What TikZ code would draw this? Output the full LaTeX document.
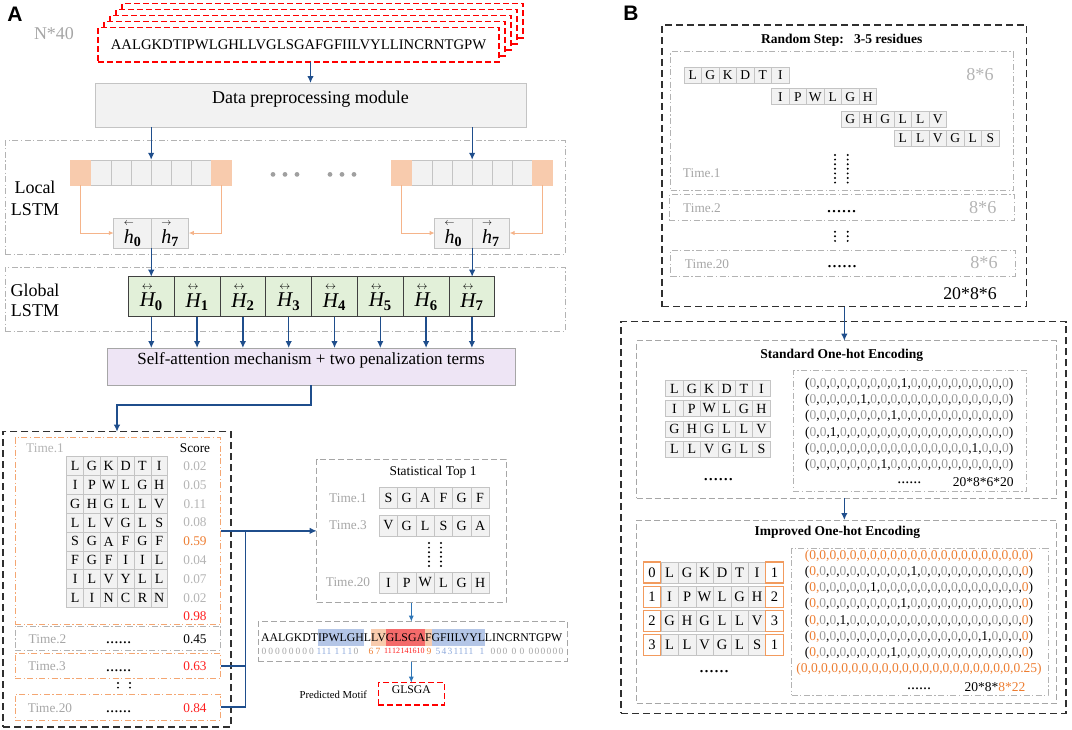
\documentclass[tikz,border=0pt]{standalone}
\usepackage{amsmath}
\usepackage{fontspec}
\setmainfont{Liberation Serif}
\newfontfamily\labelfont{Liberation Sans}
\usetikzlibrary{arrows.meta,fit}
\definecolor{dblue}{HTML}{1F4E8C}
\definecolor{lblue}{HTML}{2E75B6}
\definecolor{tgray}{HTML}{A6A6A6}
\definecolor{sgray}{HTML}{B4B4B4}
\definecolor{cfill}{HTML}{F2F2F2}
\definecolor{cborder}{HTML}{C4C4C4}
\definecolor{ocell}{HTML}{F8CBAD}
\definecolor{oline}{HTML}{F5B48A}
\definecolor{gfill}{HTML}{E2F0D9}
\definecolor{pfill}{HTML}{EEE5F5}
\definecolor{otext}{HTML}{ED7D31}
\definecolor{rtext}{HTML}{FF1F1F}
\definecolor{odashc}{HTML}{F4A672}
\definecolor{obord}{HTML}{F29B5E}
\definecolor{hblue}{HTML}{B4C6E7}
\definecolor{hred}{HTML}{F46A6A}
\definecolor{nblue}{HTML}{8FAADC}
\definecolor{zgray}{HTML}{9A9A9A}
\definecolor{dotgray}{HTML}{A0A0A0}
\definecolor{bdcol}{HTML}{303030}
\newcommand\fsz[1]{\fontsize{#1}{#1}\selectfont}
\newcommand\arrowover[2]{\overset{\scriptscriptstyle #1}{\textit{#2}}}
\newcommand\zz{\textcolor{zgray}{0}}
\newcount\ohc
\newcommand\ohlist[2]{\ohc=0 \loop\advance\ohc by 1 \ifnum\ohc=#1 1\else\zz\fi\ifnum\ohc<#2,\repeat}
\newcommand\cellrow[7]{\foreach \ch [count=\k from 0] in {#7} {\node[cellA, minimum width=#4pt, minimum height=#5pt, font=\fsz{#6}] (#1-\k) at (#2+#4*\k, #3) {\ch};}}
\newcommand\vdcol[3]{\draw[line width=2.2pt, line cap=round, dash pattern=on 0pt off 4.6pt] (#1,#2) -- (#1,#3);}
\tikzset{
 ddgray/.style={draw=tgray!85, line width=0.8pt, dash pattern=on 6pt off 2.5pt on 1.2pt off 2.5pt},
 bdash/.style={draw=bdcol, line width=1.3pt, dash pattern=on 7pt off 4pt},
 gdash/.style={draw=tgray, line width=1pt, dash pattern=on 6pt off 3pt},
 odashb/.style={draw=odashc, line width=1pt, dash pattern=on 6pt off 2.5pt on 1.2pt off 2.5pt},
 rdash/.style={draw=red, line width=1.1pt, dash pattern=on 6pt off 3pt},
 graybox/.style={draw=cborder, fill=cfill, line width=0.8pt},
 pbox/.style={draw=tgray, fill=pfill, line width=0.8pt},
 cellA/.style={draw=cborder, fill=cfill, line width=0.6pt},
 ocellst/.style={draw=ocell, fill=ocell, line width=0.6pt},
 obox/.style={draw=obord, fill=white, line width=1.2pt},
 gcell/.style={draw=black!75, fill=gfill, line width=0.8pt},
 darr/.style={draw=dblue, line width=1.3pt, -{Latex[length=7pt,width=6.5pt]}},
 dline/.style={draw=dblue, line width=1.3pt},
 larr/.style={draw=lblue, line width=1pt, -{Latex[length=6pt,width=5pt]}},
 oarr/.style={draw=oline, line width=1pt, -{Latex[length=5pt,width=4.5pt]}},
 tlab/.style={font=\fsz{13.3}, text=tgray},
 sq/.style={font=\fsz{11.8}, anchor=base west, inner xsep=0pt, inner ysep=1.85pt, text height=10pt, text depth=3pt},
 nrow/.style={font=\fsz{9.5}},
 vec/.style={font=\fsz{13.5}},
}
\begin{document}
\begin{tikzpicture}[x=1pt,y=-1pt, every node/.style={inner sep=0pt, outer sep=0pt}]
\useasboundingbox (0,0) rectangle (1072,729);
% ================= PANEL A =================
\node[font=\labelfont\bfseries\fsz{21}] (labA) at (15,14) {A};
\node[font=\fsz{18}, text=tgray] (n40) at (54,34) {N*40};
\foreach \k in {4,3,2,1}{\node[rdash, fill=white, fit={(98+6*\k,27.5-6*\k)(499+6*\k,62-6*\k)}] (stk\k) {};}
\node[rdash, fill=white, fit={(98,27.5)(499,62)}] (seq) {};
\node[font=\fsz{14.7}] (seqtxt) at (seq.center) {AALGKDTIPWLGHLLVGLSGAFGFIILVYLLINCRNTGPW};
\node[graybox, fit={(95,83)(526,127)}, font=\fsz{18}] (dp) {Data preprocessing module};
\draw[darr] (dp.north |- seq.south) -- (dp.north);
% local / global boxes
\node[ddgray, fit={(5,140.7)(565,254)}] (loc) {};
\node[font=\fontsize{18}{22}\selectfont, align=center] (loct) at (35,198.5) {Local\\LSTM};
\node[ddgray, fit={(5,267)(565,331)}] (glo) {};
\node[font=\fontsize{18}{20}\selectfont, align=center] (glot) at (35,300) {Global\\LSTM};
% cell rows
\foreach \i in {1,...,6}{\node[cellA, minimum width=20.14pt, minimum height=25pt] (ra\i) at (80.67+20.14*\i,172.3) {};}
\node[ocellst, minimum width=20.14pt, minimum height=25pt] (ra0) at (80.67,172.3) {};
\node[ocellst, minimum width=20.14pt, minimum height=25pt] (ra7) at (221.65,172.3) {};
\foreach \i in {1,...,6}{\node[cellA, minimum width=20.14pt, minimum height=25pt] (rb\i) at (401.67+20.14*\i,172.3) {};}
\node[ocellst, minimum width=20.14pt, minimum height=25pt] (rb0) at (401.67,172.3) {};
\node[ocellst, minimum width=20.14pt, minimum height=25pt] (rb7) at (542.65,172.3) {};
\foreach \x in {273,285,297,330,342,354}{\fill[dotgray] (\x,174.4) circle (2.4pt);}
% h boxes
\node[graybox, minimum width=37.5pt, minimum height=30pt, font=\fsz{20}] (ha0) at (132.5,233) {$\arrowover{\leftarrow}{h}_{\textbf{0}}$};
\node[graybox, minimum width=37.5pt, minimum height=30pt, font=\fsz{20}] (ha7) at (170,233) {$\arrowover{\rightarrow}{h}_{\textbf{7}}$};
\node[graybox, minimum width=37.5pt, minimum height=30pt, font=\fsz{20}] (hb0) at (453.4,233) {$\arrowover{\leftarrow}{h}_{\textbf{0}}$};
\node[graybox, minimum width=37.5pt, minimum height=30pt, font=\fsz{20}] (hb7) at (490.9,233) {$\arrowover{\rightarrow}{h}_{\textbf{7}}$};
% global H cells
\foreach \i in {0,...,7}{\node[gcell, minimum width=45.8pt, minimum height=39.8pt, font=\fsz{21}] (H\i) at (151.3+45.8*\i,296.6) {$\arrowover{\leftrightarrow}{H}_{\textbf{\i}}$};}
\draw[darr] (ra3.north east |- dp.south) -- (ra3.north east);
\draw[darr] (rb3.north east |- dp.south) -- (rb3.north east);
\draw[oarr] (ra0.south) |- (ha0.west);
\draw[oarr] (ra7.south) |- (ha7.east);
\draw[oarr] (rb0.south) |- (hb0.west);
\draw[oarr] (rb7.south) |- (hb7.east);
\draw[darr] (ha0.south east) -- (ha0.south east |- H0.north);
\draw[darr] (hb0.south east) -- (hb0.south east |- H7.north);
% self attention
\node[pbox, fit={(107,348)(515,385)}, font=\fsz{17}] (sa) {Self-attention mechanism + two penalization terms};
\foreach \i in {0,...,7}{\draw[darr] (H\i.south) -- (H\i.south |- sa.north);}
% bottom-left box
\node[bdash, fit={(3,431.7)(231,727)}] (outA) {};
\coordinate (turn) at (117,405);
\draw[darr] (sa.south) |- (turn) -- (turn |- outA.north);
\node[odashb, fit={(15,437.7)(220.7,624.3)}] (t1) {};
\node[tlab, text=sgray] (t1l) at (45,448) {Time.1};
\node[font=\fsz{13.3}] (scl) at (195,448) {Score};
\cellrow{gaa}{75.1}{466.1}{16.83}{18.83}{14}{L,G,K,D,T,I}
\cellrow{gab}{75.1}{484.9}{16.83}{18.83}{14}{I,P,W,L,G,H}
\cellrow{gac}{75.1}{503.8}{16.83}{18.83}{14}{G,H,G,L,L,V}
\cellrow{gad}{75.1}{522.6}{16.83}{18.83}{14}{L,L,V,G,L,S}
\cellrow{gae}{75.1}{541.4}{16.83}{18.83}{14}{S,G,A,F,G,F}
\cellrow{gaf}{75.1}{560.3}{16.83}{18.83}{14}{F,G,F,I,I,L}
\cellrow{gag}{75.1}{579.1}{16.83}{18.83}{14}{I,L,V,Y,L,L}
\cellrow{gah}{75.1}{598.0}{16.83}{18.83}{14}{L,I,N,C,R,N}
\foreach \s/\c [count=\n from 0] in {0.02/sgray,0.05/sgray,0.11/sgray,0.08/sgray,0.59/otext,0.04/sgray,0.07/sgray,0.02/sgray}{\node[font=\fsz{13.3}, text=\c] (sc\n) at (195,466.1+18.83*\n) {\s};}
\node[font=\fsz{13.3}, text=rtext] (s98) at (195,615.7) {0.98};
\node[ddgray, fit={(15,626)(220.7,650)}] (t2) {};
\node[tlab] (t2l) at (47.5,639) {Time.2};
\node[font=\fsz{17}] (t2d) at (118.5,642.5) {......};
\node[font=\fsz{13.3}] (s45) at (195,639) {0.45};
\node[odashb, fit={(15,653)(220.7,678.7)}] (t3) {};
\node[tlab] (t3l) at (47,666.5) {Time.3};
\node[font=\fsz{17}] (t3d) at (118.5,670.5) {......};
\node[font=\fsz{13.3}, text=rtext] (s63) at (195,666.5) {0.63};
\vdcol{118}{683}{692}
\vdcol{130}{683}{692}
\node[odashb, fit={(15,694)(220.7,720)}] (t20) {};
\node[tlab] (t20l) at (50,708) {Time.20};
\node[font=\fsz{17}] (t20d) at (118.5,712) {......};
\node[font=\fsz{13.3}, text=rtext] (s84) at (195,708) {0.84};
% statistical box
\node[gdash, fit={(316.7,459)(506,602.7)}] (stat) {};
\node[font=\fsz{13.4}] (stt) at (433,472.7) {Statistical Top 1};
\node[tlab] (st1l) at (348,497.8) {Time.1};
\node[tlab] (st2l) at (348,525.5) {Time.3};
\node[tlab] (st3l) at (348,582.5) {Time.20};
\cellrow{sta}{388.47}{497.8}{18.33}{21}{14}{S,G,A,F,G,F}
\cellrow{stb}{388.47}{525.5}{18.33}{21}{14}{V,G,L,S,G,A}
\cellrow{stc}{388.47}{582.5}{18.33}{21}{14}{I,P,W,L,G,H}
\vdcol{429}{543}{567}
\vdcol{441}{543}{567}
% connectors to stat
\coordinate (bus) at (245.7,0);
\draw[darr] (t1.east |- stat.west) -- (stat.west);
\draw[dline] (t3.east) -- (t3.east -| bus);
\draw[dline] (t20.east) -| (bus |- stat.west);
% bottom sequence
\node[gdash, fit={(258.3,621.7)(567,661.7)}] (bseq) {};
\draw[larr] (stat.south) -- (stat.south |- bseq.north);
\node[sq] (q1) at (261,641) {AALGKDT};
\node[sq, fill=hblue] (q2) at (q1.base east) {IPWLGH};
\node[sq] (q3) at (q2.base east) {L};
\node[sq, fill=ocell] (q4) at (q3.base east) {LV};
\node[sq, fill=hred] (q5) at (q4.base east) {GLSGA};
\node[sq, fill=ocell] (q6) at (q5.base east) {F};
\node[sq, fill=hblue] (q7) at (q6.base east) {GFIILVYL};
\node[sq] (q8) at (q7.base east) {LINCRNTGPW};
\foreach \x [count=\n] in {264,270.8,277.6,284.4,291.2,298,304.8,311.6,356,493,499,505,514,522,531,537,543,549,555,561}{\node[nrow, text=tgray] (nz\n) at (\x,651) {0};}
\foreach \x [count=\n] in {319,324,329,337,344,350}{\node[nrow, text=nblue] (na\n) at (\x,651) {1};}
\foreach \x/\d [count=\n] in {438/5,444/4,450/3,456/1,461/1,466/1,471/1,482/1}{\node[nrow, text=nblue] (nb\n) at (\x,651) {\d};}
\foreach \x/\d [count=\n] in {371/6,378/7,429/9}{\node[nrow, text=otext] (no\n) at (\x,651) {\d};}
\foreach \x/\d [count=\n] in {388/11,396/12,404.5/14,412.5/16,420.5/10}{\node[font=\fsz{8}, text=rtext] (nr\n) at (\x,651) {\d};}
\node[rdash, fit={(378.3,682.7)(444.3,705)}, font=\fsz{11.7}] (motif) {GLSGA};
\draw[larr] (bseq.south -| motif.north) -- (motif.north);
\node[font=\fsz{10.7}] (pm) at (333.3,695) {Predicted Motif};
% ================= PANEL B =================
\node[font=\labelfont\bfseries\fsz{21}] (labB) at (631,13) {B};
\node[bdash, fit={(662,25)(1026.7,306.7)}] (outB1) {};
\node[font=\bfseries\fsz{13.5}] (rst) at (841.7,40) {Random Step:\ \ \ 3-5 residues};
\node[ddgray, fit={(670.7,51.7)(1013.3,190.7)}] (bt1) {};
\cellrow{rsa}{692.75}{75}{17.5}{16}{13.5}{L,G,K,D,T,I}
\cellrow{rsb}{780.25}{96.7}{17.5}{16}{13.5}{I,P,W,L,G,H}
\cellrow{rsc}{850.25}{118.8}{17.5}{16}{13.5}{G,H,G,L,L,V}
\cellrow{rsd}{902.75}{138.2}{17.5}{16}{13.5}{L,L,V,G,L,S}
\node[font=\fsz{18.2}, text=sgray] (b86a) at (980,75) {8*6};
\vdcol{835}{155}{184}
\vdcol{847.7}{155}{184}
\node[tlab] (bt1l) at (701.7,173.3) {Time.1};
\node[ddgray, fit={(669.3,194.3)(1014,220.7)}] (bt2) {};
\node[tlab] (bt2l) at (702,208.5) {Time.2};
\node[font=\fsz{20}] (bt2d) at (841.7,212) {......};
\node[font=\fsz{18.2}, text=sgray] (b86b) at (982.7,207.7) {8*6};
\vdcol{835}{231.7}{243.5}
\vdcol{847.7}{231.7}{243.5}
\node[ddgray, fit={(670.7,250)(1015,276)}] (bt20) {};
\node[tlab] (bt20l) at (707,264.3) {Time.20};
\node[font=\fsz{20}] (bt20d) at (842,267) {......};
\node[font=\fsz{18.2}, text=sgray] (b86c) at (984,263) {8*6};
\node[font=\fsz{17.8}] (b2086) at (970,293.3) {20*8*6};
% lower B
\node[bdash, fit={(621,321.7)(1066,713.3)}] (outB2) {};
\node[gdash, fit={(636.7,340.7)(1056,498.3)}] (std) {};
\draw[darr] (outB1.south) -- (outB1.south |- std.north);
\node[font=\bfseries\fsz{13.5}] (stdt) at (841.7,355.7) {Standard One-hot Encoding};
\cellrow{sda}{674.4}{388.5}{17.4}{16}{14}{L,G,K,D,T,I}
\cellrow{sdb}{674.4}{408.5}{17.4}{16}{14}{I,P,W,L,G,H}
\cellrow{sdc}{674.4}{428.8}{17.4}{16}{14}{G,H,G,L,L,V}
\cellrow{sdd}{674.4}{449.2}{17.4}{16}{14}{L,L,V,G,L,S}
\node[font=\fsz{20}] (sdd0) at (718.3,480) {......};
\node[ddgray, fit={(793.3,370)(1026,491.7)}] (stdm) {};
\node[vec] (sv1) at (909.3,384) {(\ohlist{10}{20})};
\node[vec] (sv2) at (909.3,400.3) {(\ohlist{6}{20})};
\node[vec] (sv3) at (909.3,416.6) {(\ohlist{9}{20})};
\node[vec] (sv4) at (909.3,432.9) {(\ohlist{3}{20})};
\node[vec] (sv5) at (909.3,449.2) {(\ohlist{17}{20})};
\node[vec] (sv6) at (909.3,465.5) {(\ohlist{8}{20})};
\node[font=\fsz{16}] (svd) at (909.3,482.5) {......};
\node[vec] (svn) at (983.3,481.7) {20*8*6*20};
\node[gdash, fit={(636.7,520)(1056,703.3)}] (imp) {};
\draw[darr] (outB1.south |- std.south) -- (outB1.south |- imp.north);
\node[font=\bfseries\fsz{13.5}] (impt) at (837.3,532.7) {Improved One-hot Encoding};
\cellrow{ima}{669.55}{572.5}{17.5}{21}{14.5}{L,G,K,D,T,I}
\cellrow{imb}{669.55}{596.7}{17.5}{21}{14.5}{I,P,W,L,G,H}
\cellrow{imc}{669.55}{620.9}{17.5}{21}{14.5}{G,H,G,L,L,V}
\cellrow{imd}{669.55}{645.1}{17.5}{21}{14.5}{L,L,V,G,L,S}
\foreach \y/\a/\b [count=\n] in {572.5/0/1,596.7/1/2,620.9/2/3,645.1/3/1}{
 \node[obox, minimum width=17.5pt, minimum height=21pt, font=\fsz{14.5}] (ioa\n) at (652.05,\y) {\a};
 \node[obox, minimum width=17.5pt, minimum height=21pt, font=\fsz{14.5}] (iob\n) at (774.55,\y) {\b};}
\node[font=\fsz{20}] (imd0) at (714,671.5) {......};
\node[ddgray, fit={(791.7,548.3)(1048,695)}] (impm) {};
\node[vec, text=otext] (iv1) at (919,556) {(0,0,0,0,0,0,0,0,0,0,0,0,0,0,0,0,0,0,0,0,0,0)};
\node[vec] (iv2) at (919,572.2) {(\textcolor{otext}{0,}\ohlist{10}{20},\textcolor{otext}{0})};
\node[vec] (iv3) at (919,588.4) {(\textcolor{otext}{0,}\ohlist{6}{20},\textcolor{otext}{0})};
\node[vec] (iv4) at (919,604.6) {(\textcolor{otext}{0,}\ohlist{9}{20},\textcolor{otext}{0})};
\node[vec] (iv5) at (919,620.8) {(\textcolor{otext}{0,}\ohlist{3}{20},\textcolor{otext}{0})};
\node[vec] (iv6) at (919,637) {(\textcolor{otext}{0,}\ohlist{17}{20},\textcolor{otext}{0})};
\node[vec] (iv7) at (919,653.2) {(\textcolor{otext}{0,}\ohlist{8}{20},\textcolor{otext}{0})};
\node[vec, text=otext] (iv8) at (919,669.4) {(0,0,0,0,0,0,0,0,0,0,0,0,0,0,0,0,0,0,0,0,0,0.25)};
\node[font=\fsz{16}] (ivd) at (919,689) {......};
\node[vec] (ivn) at (995,686.7) {20*8*\textcolor{otext}{8*22}};
\end{tikzpicture}
\end{document}
